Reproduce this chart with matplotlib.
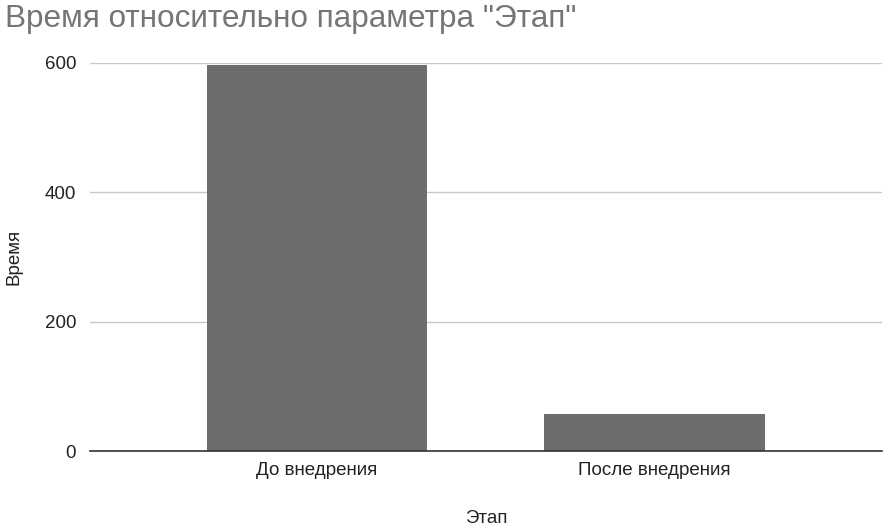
import matplotlib.pyplot as plt

plt.rcParams['font.family'] = ['Liberation Sans', 'DejaVu Sans']

# данные
stages = ['До внедрения', 'После внедрения']
times = [597, 58]
y_ticks = [0, 200, 400, 600]

fig = plt.figure(figsize=(8.9, 5.29), dpi=100)
ax = fig.add_axes([0.101, 0.147, 0.89, 0.734])

x = range(len(stages))
ax.bar(x, times, width=0.652, color='#6d6d6d', zorder=3)

ax.set_xlim(-0.673, 1.674)
ax.set_ylim(0, 600)
ax.set_yticks(y_ticks)
ax.set_xticks(list(x))
ax.set_xticklabels(stages)

ax.grid(axis='y', color='#c8c8c8', linewidth=1, zorder=0)
for s in ['top', 'right', 'left']:
    ax.spines[s].set_visible(False)
ax.spines['bottom'].set_color('#333333')
ax.spines['bottom'].set_linewidth(1.2)
ax.spines['bottom'].set_zorder(4)
ax.tick_params(axis='both', length=0, labelsize=13.5, colors='#222222')
ax.tick_params(axis='y', pad=10)
ax.tick_params(axis='x', pad=8)

ax.set_ylabel('Время', fontsize=13.5, color='#222222', labelpad=16)
ax.set_xlabel('Этап', fontsize=13.5, color='#222222', labelpad=22)

fig.text(0.006, 0.964, 'Время относительно параметра "Этап"', fontsize=22.7,
         color='#757575', ha='left', va='center')

fig.savefig('out.png', dpi=100)
